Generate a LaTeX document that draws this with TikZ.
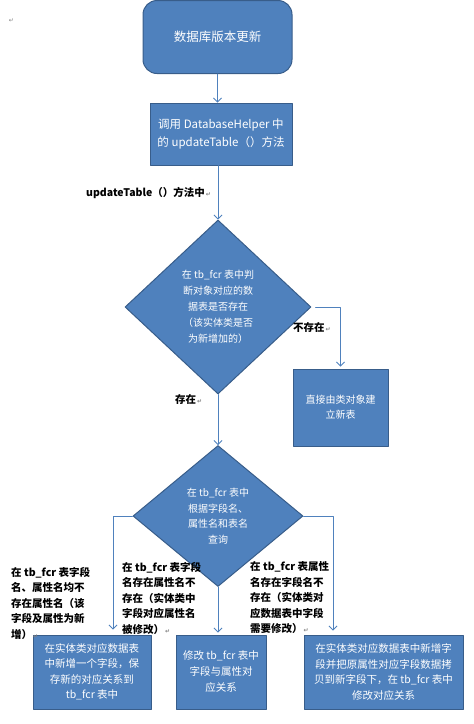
\documentclass[tikz,border=0pt]{standalone}
\usepackage{fontspec}
\setmainfont{Noto Sans CJK SC}
\newfontfamily\markfont{DejaVu Sans}
\usetikzlibrary{shapes.geometric,arrows.meta,positioning}
\definecolor{boxblue}{RGB}{79,129,189}
\definecolor{boxline}{RGB}{56,93,138}
\definecolor{flowline}{RGB}{79,129,189}
\newcommand{\pmark}{{\markfont\fontsize{6}{6}\selectfont\color{gray}\,↵}}
\tikzset{
	blk/.style={draw=boxline,fill=boxblue,text=white,line width=1pt,align=center,inner sep=0pt,font=\fontsize{10.5}{15.5}\selectfont},
	cond/.style={blk,diamond,aspect=1},
	lbl/.style={font=\bfseries\fontsize{10.5}{15.5}\selectfont,align=left,inner sep=0pt,anchor=west},
	flow/.style={draw=flowline,line width=0.8pt,->}
}
\begin{document}
\begin{tikzpicture}[x=1pt,y=-1pt,line join=round,line cap=round,>={Straight Barb[length=4pt,width=8pt]}]% coordinates
	\useasboundingbox (0,0) rectangle (474,724);
	\path (217.5,37) coordinate (S)
	(221,134) coordinate (C)
	(218,307) coordinate (D1)
	(340.5,407.5) coordinate (N)
	(218,516) coordinate (D2);
	\path (92,672) coordinate (B1)
	(221,672) coordinate (B2)
	(383.5,672) coordinate (B3);
	\node[blk,rounded corners=14pt,minimum width=149pt,minimum height=73pt,font=\fontsize{12.5}{15}\selectfont] (start) at (S) {数据库版本更新};
	\node[blk,minimum width=142pt,minimum height=62pt,font=\fontsize{11.5}{18}\selectfont] (call) at (C) {调用 DatabaseHelper 中\\的 updateTable（）方法};
	\node[cond,minimum width=186pt,minimum height=174pt,font=\fontsize{10}{16}\selectfont] (chk1) at (D1) {在 tb\_fcr 表中判\\断对象对应的数\\据表是否存在\\（该实体类是否\\为新增加的）};
	\node[blk,minimum width=95pt,minimum height=77pt,font=\fontsize{10}{15}\selectfont] (new) at (N) {直接由类对象建\\立新表};
	\node[cond,minimum width=170pt,minimum height=141pt,font=\fontsize{10}{15.5}\selectfont] (chk2) at (D2) {在 tb\_fcr 表中\\根据字段名、\\属性名和表名\\查询};
	\node[blk,minimum width=118pt,minimum height=74pt] (add) at (B1) {在实体类对应数据表\\中新增一个字段，保\\存新的对应关系到\\tb\_fcr 表中};
	\node[blk,minimum width=90pt,minimum height=74pt,font=\fontsize{10.5}{16}\selectfont] (edit) at (B2) {修改 tb\_fcr 表中\\字段与属性对\\应关系};
	\node[blk,minimum width=159pt,minimum height=74pt] (copy) at (B3) {在实体类对应数据表中新增字\\段并把原属性对应字段数据拷\\贝到新字段下，在 tb\_fcr 表中\\修改对应关系};
	% labels
	\node[lbl] (l0) at (86,193) {updateTable（）方法中\pmark};
	\node[lbl] (l1) at (293,328) {不存在\pmark};
	\node[lbl] (l2) at (175,400) {存在\pmark};
	\node[lbl] (l3) at (11,603) {在 tb\_fcr 表字段\\名、属性名均不\\存在属性名（该\\字段及属性为新\\增）\pmark};
	\node[lbl] (l4) at (122,598) {在 tb\_fcr 表字段\\名存在属性名不\\存在（实体类中\\字段对应属性名\\被修改）\pmark};
	\node[lbl] (l5) at (250,598) {在 tb\_fcr 表属性\\名存在字段名不\\存在（实体类对\\应数据表中字段\\需要修改）\pmark};
	\node[inner sep=0pt] (m0) at (11,21) {\pmark};
	% connectors
	\draw[flow] (start.south) -- (start.south |- call.north);
	\draw[flow] (chk1.north |- call.south) -- (chk1.north);
	\draw[flow] ([xshift=4pt]chk1.east) -| ([yshift=2pt]new.north);
	\draw[flow] (chk1.south) -- (chk2.north);
	\draw[flow] (chk2.west) -| ([xshift=21pt,yshift=5pt]add.north);
	\draw[flow] (chk2.south) -- ([yshift=2pt]chk2.south |- edit.north);
	\draw[flow] (chk2.east) -| ([xshift=-50.5pt,yshift=4pt]copy.north);
\end{tikzpicture}
\end{document}
